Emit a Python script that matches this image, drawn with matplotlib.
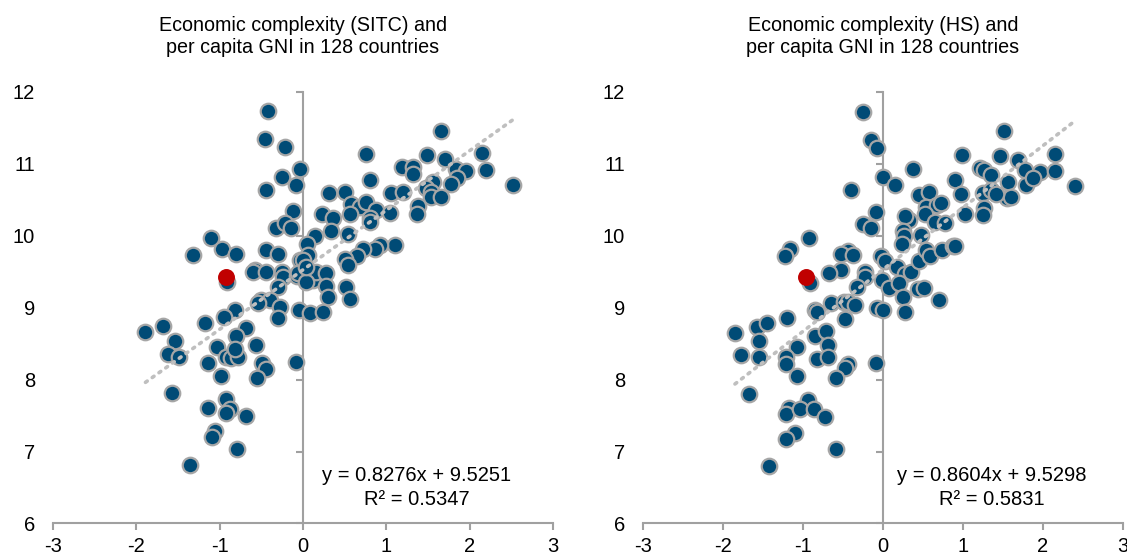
import matplotlib.pyplot as plt
import numpy as np

plt.rcParams['font.family'] = ['Liberation Sans', 'DejaVu Sans']
plt.rcParams['axes.unicode_minus'] = False

# left panel: SITC complexity vs log per capita GNI
sitc_x = [-0.42, -0.45, -0.22, -0.04, -0.25, -0.08, -0.44, -0.12, -0.32, -0.22,
          -0.14, -1.10, -0.97, -0.80, -1.32, -0.44, -0.30, -0.04, -0.58, -0.60,
          -0.44, -0.25, -0.24, -0.07, -0.91, -0.30, -0.50, -0.40, -0.54, -0.28,
          -0.05, -0.81, -0.95, -0.30, -1.18, -0.68, -1.68, -1.89, -1.54, -1.62,
          -1.49, -0.80, -1.03, -0.92, -0.86, -0.78, -0.82, -0.56, -1.14, -0.98,
          -0.49, -0.44, -0.55, -0.08, -1.57, -0.92, -0.88, -0.92, -1.14, -0.68,
          -1.06, -1.09, -0.79, -1.35, 0.08, 0.24, 1.66, 0.76, 1.49, 2.15,
          1.70, 1.19, 1.32, 1.32, 1.84, 1.96, 1.85, 2.20, 2.52, 0.80,
          1.56, 1.48, 1.54, 1.54, 1.66, 1.78, 0.31, 0.51, 1.05, 1.20,
          0.58, 0.68, 0.76, 0.87, 1.38, 1.37, 1.04, 0.23, 0.56, 0.36,
          0.34, 0.80, 0.80, 0.54, 0.15, 0.05, 1.10, 0.92, 0.86, 0.72,
          0.65, 0.50, 0.54, 0.06, 0.00, -0.06, 0.12, 0.16, 0.28, 0.04,
          0.04, 0.28, 0.30, 0.52, 0.56]
sitc_y = [11.73, 11.34, 11.23, 10.93, 10.82, 10.71, 10.64, 10.34, 10.11, 10.17,
          10.10, 9.97, 9.82, 9.75, 9.73, 9.80, 9.74, 9.66, 9.52, 9.50,
          9.49, 9.50, 9.42, 9.44, 9.35, 9.29, 9.11, 9.10, 9.06, 9.01,
          8.97, 8.96, 8.87, 8.85, 8.78, 8.71, 8.74, 8.66, 8.53, 8.36,
          8.32, 8.60, 8.45, 8.31, 8.30, 8.32, 8.42, 8.48, 8.23, 8.05,
          8.23, 8.15, 8.02, 8.24, 7.81, 7.73, 7.59, 7.54, 7.61, 7.50,
          7.28, 7.20, 7.04, 6.81, 8.93, 8.94, 11.45, 11.13, 11.12, 11.15,
          11.06, 10.95, 10.95, 10.85, 10.93, 10.90, 10.80, 10.91, 10.70, 10.77,
          10.75, 10.66, 10.61, 10.53, 10.53, 10.72, 10.59, 10.60, 10.59, 10.60,
          10.44, 10.40, 10.47, 10.35, 10.41, 10.30, 10.31, 10.30, 10.30, 10.24,
          10.07, 10.24, 10.19, 10.02, 9.99, 9.89, 9.87, 9.87, 9.81, 9.81,
          9.72, 9.67, 9.59, 9.73, 9.66, 9.48, 9.39, 9.50, 9.48, 9.36,
          9.57, 9.30, 9.15, 9.28, 9.12]

# right panel: HS complexity vs log per capita GNI
hs_x = [-0.25, -0.15, -0.07, 0.00, -0.40, -0.09, -0.25, -0.15, -0.93, -1.16,
        -1.22, -0.44, -0.52, -0.37, -0.02, 0.02, -0.52, -0.67, -0.23, -0.23,
        -0.91, -0.01, -0.33, -0.65, -0.49, -0.44, -0.35, -0.85, -0.08, 0.00,
        -1.85, -1.78, -1.57, -1.45, -1.55, -1.55, -1.20, -0.83, -0.48, -0.85,
        -0.71, -0.69, -1.07, -1.21, -1.21, -0.83, -0.69, -0.44, -0.47, -1.08,
        -0.59, -0.09, -1.67, -0.94, -1.17, -1.21, -1.04, -0.86, -0.73, -1.10,
        -1.21, -0.59, -1.43, 0.15, 0.38, 0.99, 1.51, 1.46, 1.69, 1.78,
        1.96, 2.15, 2.15, 2.40, 1.21, 1.26, 1.35, 1.79, 1.88, 1.56,
        1.55, 1.60, 0.90, 0.98, 1.02, 1.25, 1.35, 1.41, 1.26, 1.25,
        0.45, 0.58, 0.54, 0.67, 0.73, 0.52, 0.65, 0.78, 0.33, 0.28,
        0.25, 0.26, 0.24, 0.47, 0.18, 0.28, 0.35, 0.45, 0.54, 0.59,
        0.74, 0.88, 0.90, 0.08, 0.20, 0.25, 0.44, 0.51, 0.70, 0.27]
hs_y = [11.72, 11.33, 11.22, 10.81, 10.63, 10.33, 10.16, 10.10, 9.96, 9.82,
        9.72, 9.79, 9.74, 9.73, 9.72, 9.65, 9.52, 9.48, 9.50, 9.43,
        9.34, 9.39, 9.29, 9.06, 9.08, 9.08, 9.04, 8.97, 8.99, 8.97,
        8.64, 8.34, 8.73, 8.78, 8.53, 8.32, 8.86, 8.94, 8.84, 8.60,
        8.68, 8.48, 8.45, 8.32, 8.22, 8.29, 8.31, 8.22, 8.16, 8.05,
        8.02, 8.23, 7.80, 7.72, 7.61, 7.52, 7.59, 7.59, 7.48, 7.26,
        7.18, 7.03, 6.80, 10.70, 10.92, 11.12, 11.45, 11.11, 11.05, 10.91,
        10.89, 11.14, 10.90, 10.69, 10.94, 10.91, 10.84, 10.71, 10.80, 10.74,
        10.52, 10.53, 10.77, 10.58, 10.30, 10.59, 10.64, 10.58, 10.39, 10.29,
        10.57, 10.60, 10.40, 10.43, 10.46, 10.30, 10.19, 10.18, 10.22, 10.27,
        10.06, 9.99, 9.88, 10.01, 9.57, 9.47, 9.49, 9.65, 9.80, 9.71,
        9.80, 9.86, 9.86, 9.27, 9.34, 9.15, 9.26, 9.27, 9.10, 8.94]

# highlighted country
sitc_hl = (-0.92, 9.43)
hs_hl = (-0.96, 9.43)

panels = [
    dict(x=sitc_x, y=sitc_y, hl=sitc_hl, slope=0.8276, icpt=9.5251, r2=0.5347,
         title='Economic complexity (SITC) and\nper capita GNI in 128 countries'),
    dict(x=hs_x, y=hs_y, hl=hs_hl, slope=0.8604, icpt=9.5298, r2=0.5831,
         title='Economic complexity (HS) and\nper capita GNI in 128 countries'),
]

fig = plt.figure(figsize=(11.27, 5.56), dpi=100)
boxes = [[0.047, 0.0585, 0.4437, 0.7766], [0.5705, 0.0585, 0.426, 0.7766]]

for box, p in zip(boxes, panels):
    ax = fig.add_axes(box)
    ax.scatter(p['x'], p['y'], s=125, c='#004B76', edgecolors='#A6A6A6',
               linewidths=1.6, zorder=3)
    xs = np.array([min(p['x']), max(p['x'])])
    ax.plot(xs, p['slope'] * xs + p['icpt'], color='#BFBFBF', lw=2.6,
            linestyle=(0, (0.6, 1.7)), dash_capstyle='round', zorder=4)
    ax.scatter([p['hl'][0]], [p['hl'][1]], s=125, c='#C00000',
               edgecolors='#C00000', linewidths=1, zorder=5)

    ax.set_xlim(-3, 3)
    ax.set_ylim(6, 12)
    ax.set_xticks(range(-3, 4))
    ax.set_yticks(range(6, 13))
    for s in ['top', 'right']:
        ax.spines[s].set_visible(False)
    # vertical axis line through x = 0, labels stay at the left edge
    ax.spines['left'].set_position(('data', 0))
    for s in ['left', 'bottom']:
        ax.spines[s].set_color('#A0A0A0')
        ax.spines[s].set_linewidth(1.5)
    ax.tick_params(axis='both', length=5, width=1.5, color='#A0A0A0',
                   labelsize=14.5)
    ax.tick_params(axis='x', pad=5)
    ax.tick_params(axis='y', labelleft=False)

    lab = ax.secondary_yaxis(0.0)
    lab.spines['left'].set_visible(False)
    lab.spines['right'].set_visible(False)
    lab.set_yticks(range(6, 13))
    lab.tick_params(axis='y', length=0, labelsize=14.5, pad=13)

    ax.set_title(p['title'], fontsize=14.2, pad=28, linespacing=1.2)
    ax.text(1.36, 6.66, 'y = %.4fx + %.4f' % (p['slope'], p['icpt']),
            ha='center', va='center', fontsize=14.5)
    ax.text(1.36, 6.34, 'R² = %.4f' % p['r2'], ha='center', va='center',
            fontsize=14.5)

fig.savefig('out.png', dpi=100)
